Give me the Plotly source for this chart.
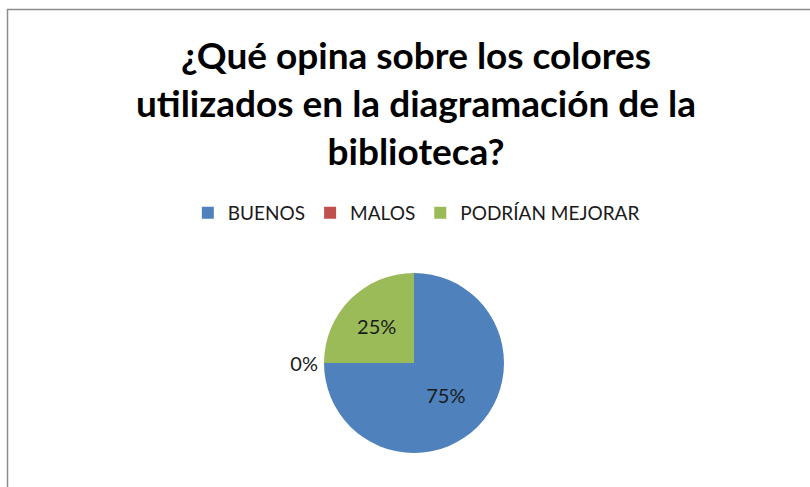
import plotly.graph_objects as go

categories = ["BUENOS", "MALOS", "PODRÍAN MEJORAR"]
values = [75, 0, 25]
colors = ["#4F81BD", "#C0504D", "#9BBB59"]
text_positions = ["inside", "outside", "inside"]
title_text = "¿Qué opina sobre los colores<br>utilizados en la diagramación de la<br>biblioteca?"

W, H = 810, 487
cx, cy, r = 414, 363, 90
FONT = "Lato, Open Sans, sans-serif"

fig = go.Figure(go.Pie(
    labels=categories,
    values=values,
    marker=dict(colors=colors, line=dict(color="white", width=0)),
    sort=False,
    direction="clockwise",
    rotation=0,
    texttemplate="%{percent:.0%}",
    textposition=text_positions,
    insidetextorientation="horizontal",
    textfont=dict(family=FONT, size=20, color="#1a1a1a"),
    outsidetextfont=dict(family=FONT, size=20, color="#1a1a1a"),
    insidetextfont=dict(family=FONT, size=20, color="#1a1a1a"),
    domain=dict(x=[(cx - r) / W, (cx + r) / W], y=[(H - cy - r) / H, (H - cy + r) / H]),
    hoverinfo="label+percent",
))

fig.update_layout(
    width=W, height=H,
    margin=dict(l=0, r=0, t=0, b=0),
    paper_bgcolor="white",
    plot_bgcolor="white",
    annotations=[dict(
        text=title_text,
        xref="paper", yref="paper",
        x=416 / W, xanchor="center",
        y=1 - 103 / H, yanchor="middle",
        showarrow=False,
        font=dict(family=FONT, size=37, color="#000000", weight="bold"),
    )],
    showlegend=True,
    legend=dict(
        orientation="h",
        x=0.514, xanchor="center",
        y=1 - 213 / H, yanchor="middle",
        font=dict(family=FONT, size=19, color="#1a1a1a"),
        itemwidth=30,
        traceorder="normal",
    ),
    shapes=[dict(
        type="rect", xref="paper", yref="paper",
        x0=7.5 / W, x1=1.2, y0=-0.2, y1=1 - 9.5 / H,
        line=dict(color="#8c8c8c", width=1.5),
        fillcolor="rgba(0,0,0,0)",
    )],
)

fig.write_html("out.html")
